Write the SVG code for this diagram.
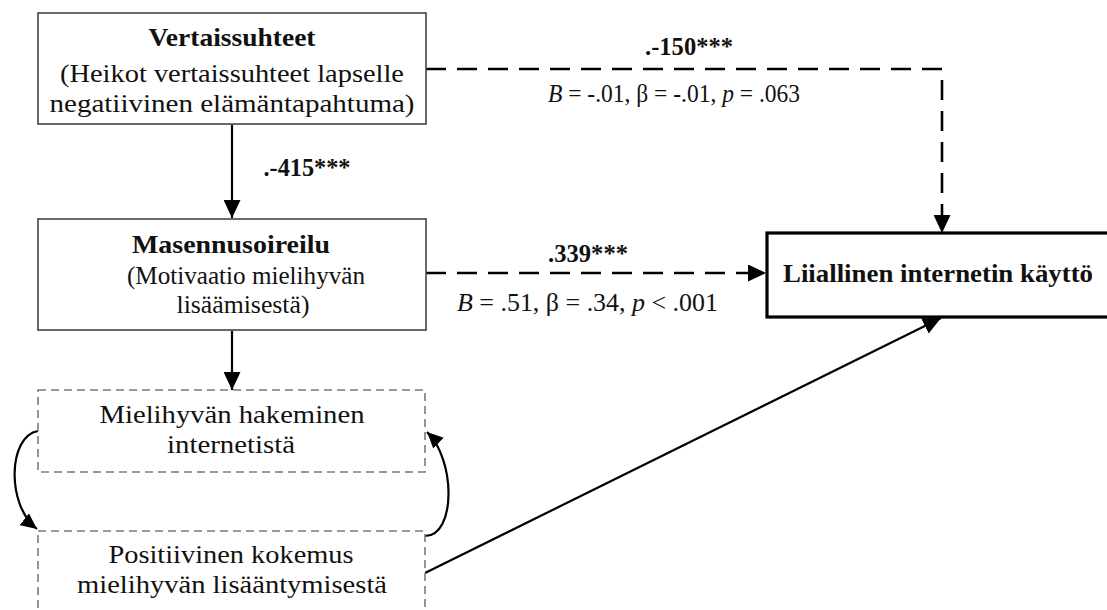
<svg xmlns="http://www.w3.org/2000/svg" width="1107" height="610" viewBox="0 0 1107 610">
<style>
text{font-family:"Liberation Serif","Times New Roman",serif;font-size:25px;fill:#111;}
.b{font-weight:bold;}
.c{text-anchor:middle;}
.i{font-style:italic;}
.box{fill:#fff;stroke:#444;stroke-width:1.6;}
.dbox{fill:#fff;stroke:#7a7a7a;stroke-width:1.6;stroke-dasharray:8 5;}
.main{fill:#fff;stroke:#000;stroke-width:3.2;}
.ln{fill:none;stroke:#000;stroke-width:2.2;}
.dash{stroke-dasharray:20 11;stroke-width:2.6;}
</style>
<defs>
<marker id="ah" markerUnits="userSpaceOnUse" markerWidth="18" markerHeight="17" refX="18" refY="8.5" orient="auto" viewBox="0 0 18 17">
<path d="M0,0 L18,8.5 L0,17 z" fill="#000"/>
</marker>
<marker id="ah2" markerUnits="userSpaceOnUse" markerWidth="16" markerHeight="15" refX="16" refY="7.5" orient="auto" viewBox="0 0 16 15">
<path d="M0,0 L16,7.5 L0,15 z" fill="#000"/>
</marker>
</defs>

<g id="connectors">
<path class="ln" d="M232,125 V218" marker-end="url(#ah)"/>
<path class="ln" d="M232,331 V390" marker-end="url(#ah)"/>
<path class="ln dash" d="M426,69 H942 V233" marker-end="url(#ah)"/>
<path class="ln dash" d="M426,273 H766" marker-end="url(#ah)"/>
<path class="ln" d="M425,573 L941,318" marker-end="url(#ah)"/>
<path class="ln" d="M38,431 C8,436 6,505 37,529" marker-end="url(#ah2)"/>
<path class="ln" d="M425,536 C456,536 456,460 427,432" marker-end="url(#ah2)"/>
<text class="b c" x="307" y="176" textLength="87" lengthAdjust="spacingAndGlyphs">.-415***</text>
<text class="b c" x="689" y="55" textLength="88" lengthAdjust="spacingAndGlyphs">.-150***</text>
<text x="548" y="102" textLength="252" lengthAdjust="spacingAndGlyphs"><tspan class="i">B</tspan> = -.01, β = -.01, <tspan class="i">p</tspan> = .063</text>
<text class="b c" x="588" y="262" textLength="80" lengthAdjust="spacingAndGlyphs">.339***</text>
<text x="457" y="311" textLength="261" lengthAdjust="spacingAndGlyphs"><tspan class="i">B</tspan> = .51, β = .34, <tspan class="i">p</tspan> &lt; .001</text>
</g>

<g id="vertaissuhteet">
<rect class="box" x="38" y="13" width="388" height="111"/>
<text class="b c" x="232" y="46" textLength="167" lengthAdjust="spacingAndGlyphs">Vertaissuhteet</text>
<text class="c" x="232" y="82" textLength="344" lengthAdjust="spacingAndGlyphs">(Heikot vertaissuhteet lapselle</text>
<text class="c" x="232" y="112" textLength="365" lengthAdjust="spacingAndGlyphs">negatiivinen elämäntapahtuma)</text>
</g>

<g id="masennusoireilu">
<rect class="box" x="38" y="219" width="388" height="111"/>
<text class="b c" x="231" y="253" textLength="198" lengthAdjust="spacingAndGlyphs">Masennusoireilu</text>
<text class="c" x="246" y="284" textLength="238" lengthAdjust="spacingAndGlyphs">(Motivaatio mielihyvän</text>
<text class="c" x="243" y="313" textLength="133" lengthAdjust="spacingAndGlyphs">lisäämisestä)</text>
</g>

<g id="hakeminen">
<rect class="dbox" x="38" y="390" width="387" height="82"/>
<text class="c" x="232" y="423" textLength="265" lengthAdjust="spacingAndGlyphs">Mielihyvän hakeminen</text>
<text class="c" x="231" y="453" textLength="128" lengthAdjust="spacingAndGlyphs">internetistä</text>
</g>

<g id="positiivinen">
<rect class="dbox" x="38" y="531" width="387" height="100"/>
<text class="c" x="231" y="563" textLength="245" lengthAdjust="spacingAndGlyphs">Positiivinen kokemus</text>
<text class="c" x="232" y="593" textLength="310" lengthAdjust="spacingAndGlyphs">mielihyvän lisääntymisestä</text>
</g>

<g id="liiallinen">
<rect class="main" x="767" y="233" width="345" height="84"/>
<text class="b c" x="938" y="282" textLength="310" lengthAdjust="spacingAndGlyphs">Liiallinen internetin käyttö</text>
</g>
</svg>
